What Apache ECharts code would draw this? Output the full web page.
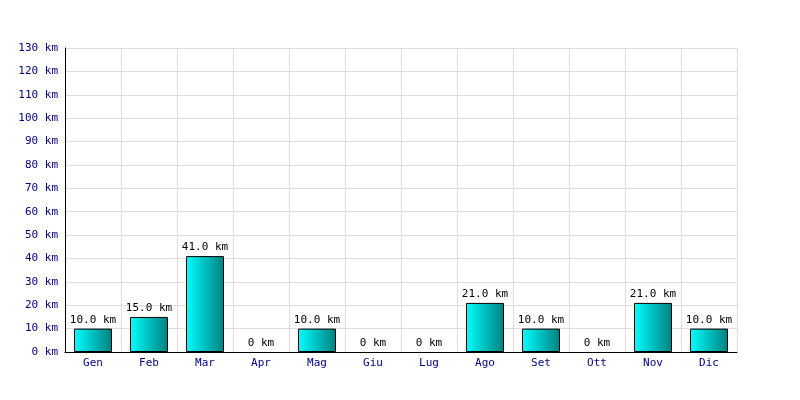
<!DOCTYPE html>
<html><head><meta charset="utf-8">
<script src="https://cdn.jsdelivr.net/npm/echarts@6/dist/echarts.min.js"></script>
<style>html,body{margin:0;padding:0;background:#fff}#c{width:800px;height:400px}</style>
</head><body><div id="c"></div>
<script>
const categories = ['Gen','Feb','Mar','Apr','Mag','Giu','Lug','Ago','Set','Ott','Nov','Dic'];
const distances = [10, 15, 41, 0, 10, 0, 0, 21, 10, 0, 21, 10];
const yMax = 130;
const yStep = 10;

const chart = echarts.init(document.getElementById('c'), null, {renderer:'canvas'});
const font = 'DejaVu Sans Mono';
const barData = distances.map(v => v === 0
  ? {value: v, itemStyle: {borderWidth: 0, borderColor: 'rgba(0,0,0,0)', color: 'rgba(0,0,0,0)'}}
  : v);
chart.setOption({
  animation: false,
  backgroundColor: '#ffffff',
  grid: {left: 65, right: 63, top: 48, bottom: 48, containLabel: false},
  xAxis: {
    type: 'category', data: categories,
    axisLine: {show: true, lineStyle: {color: '#000', width: 1}},
    axisTick: {show: false},
    axisLabel: {color: '#000080', fontFamily: font, fontSize: 11, margin: 6},
    splitLine: {show: true, lineStyle: {color: '#dddddd', width: 1}}
  },
  yAxis: {
    type: 'value', min: 0, max: yMax, interval: yStep,
    axisLine: {show: true, lineStyle: {color: '#000', width: 1}},
    axisTick: {show: false},
    axisLabel: {color: '#000080', fontFamily: font, fontSize: 11, margin: 7,
      formatter: v => v + ' km'},
    splitLine: {show: true, lineStyle: {color: '#dddddd', width: 1}}
  },
  series: [{
    type: 'bar', data: barData, barWidth: 38,
    itemStyle: {
      borderColor: '#000', borderWidth: 1,
      color: new echarts.graphic.LinearGradient(0, 0, 1, 0, [
        {offset: 0, color: '#00ffff'}, {offset: 1, color: '#008080'}
      ])
    },
    label: {
      show: true, position: 'top', distance: 3, color: '#000',
      fontFamily: font, fontSize: 11,
      formatter: p => p.value === 0 ? '0 km' : p.value.toFixed(1) + ' km'
    }
  }]
});
</script></body></html>
